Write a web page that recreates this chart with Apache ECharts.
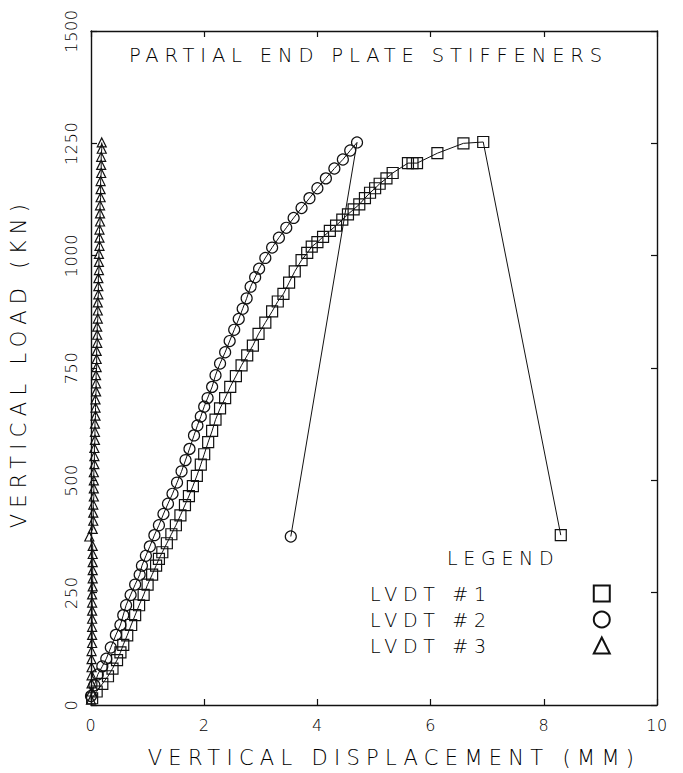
<!DOCTYPE html>
<html lang="en">
<head>
    <meta charset="UTF-8">
    <script src="https://cdn.jsdelivr.net/npm/echarts@6/dist/echarts.min.js"></script>
    <style>
        body { margin: 0; background: #fff; }
        /* plotter style lettering: wide spacing, except the small tick numbers */
        #loadChart svg text { letter-spacing: 0.3em; }
        #loadChart svg text[style*="16px"] { letter-spacing: 0.04em; }
    </style>
</head>
<body>
<div id="loadChart" style="width:683px;height:773px;"></div>
<script type="text/javascript">

    // LVDT #1 (squares)
    var lvdt1Disp = [0.02, 0.1, 0.2, 0.3, 0.38, 0.46, 0.52, 0.57, 0.64, 0.71, 0.78, 0.85, 0.93, 1.0, 1.08, 1.15,
        1.2, 1.26, 1.34, 1.42, 1.5, 1.58, 1.66, 1.73, 1.8, 1.87, 1.94, 2.0, 2.07, 2.14, 2.2, 2.28, 2.37, 2.46,
        2.56, 2.66, 2.76, 2.86, 2.96, 3.08, 3.2, 3.3, 3.4, 3.5, 3.6, 3.72, 3.82, 3.9, 4.0, 4.1, 4.22, 4.33,
        4.44, 4.54, 4.64, 4.74, 4.84, 4.93, 5.02, 5.1, 5.22, 5.33, 5.6, 5.68, 5.76, 6.12, 6.58, 6.93, 8.3];
    var lvdt1Load = [15, 30, 47, 64, 81, 100, 117, 134, 155, 178, 200, 222, 245, 268, 290, 310,
        325, 340, 360, 380, 400, 422, 445, 465, 487, 510, 535, 558, 585, 610, 635, 660, 683, 708,
        732, 756, 778, 800, 826, 851, 876, 898, 915, 940, 965, 990, 1006, 1020, 1030, 1042, 1055, 1067,
        1080, 1092, 1103, 1114, 1128, 1140, 1150, 1160, 1172, 1184, 1206, 1206, 1206, 1228, 1250, 1253, 378];

    // LVDT #2 (circles)
    var lvdt2Disp = [0.0, 0.06, 0.12, 0.2, 0.27, 0.35, 0.44, 0.52, 0.57, 0.62, 0.7, 0.78, 0.86, 0.9, 0.97,
        1.04, 1.12, 1.2, 1.28, 1.36, 1.44, 1.52, 1.6, 1.67, 1.74, 1.82, 1.88, 1.94, 2.0, 2.06, 2.14, 2.2,
        2.28, 2.37, 2.45, 2.53, 2.61, 2.68, 2.75, 2.82, 2.9, 2.97, 3.08, 3.2, 3.32, 3.45, 3.58, 3.72, 3.86,
        4.0, 4.15, 4.3, 4.45, 4.58, 4.7, 3.53];
    var lvdt2Load = [20, 44, 68, 86, 103, 128, 156, 178, 200, 222, 245, 268, 290, 310, 332,
        353, 378, 400, 425, 448, 470, 495, 520, 545, 570, 600, 622, 642, 664, 683, 708, 734,
        760, 785, 810, 835, 859, 882, 905, 931, 952, 971, 995, 1018, 1040, 1062, 1084, 1106, 1128,
        1150, 1172, 1194, 1214, 1234, 1252, 375];

    // LVDT #3 (triangles)
    var lvdt3Disp = [0.0, 0.01, 0.01, 0.01, 0.01, 0.01, 0.01, 0.02, 0.02, 0.02, 0.02, 0.02, 0.02, 0.02,
        0.03, 0.03, 0.03, 0.03, 0.03, 0.03, -0.03, 0.03, 0.04, 0.04, 0.04, 0.05, 0.05, 0.05, 0.05, 0.06,
        0.06, 0.06, 0.07, 0.07, 0.07, 0.08, 0.08, 0.08, 0.09, 0.09, 0.09, 0.1, 0.1, 0.1, 0.11, 0.11, 0.11,
        0.12, 0.12, 0.12, 0.13, 0.13, 0.13, 0.14, 0.14, 0.14, 0.15, 0.15, 0.15, 0.16, 0.16, 0.16, 0.17,
        0.17, 0.17, 0.18, 0.18, 0.18, 0.19, 0.19];
    var lvdt3Load = [12, 30, 48, 66, 84, 102, 120, 138, 156, 174, 192, 210, 228, 246, 264, 282, 300, 318,
        336, 354, 375, 392, 410, 428, 446, 464, 482, 500, 518, 536, 554, 572, 590, 608, 626, 644, 662, 680,
        698, 716, 734, 752, 770, 788, 806, 824, 842, 860, 878, 896, 914, 932, 950, 968, 986, 1004, 1022,
        1040, 1058, 1076, 1094, 1112, 1130, 1148, 1166, 1184, 1202, 1220, 1238, 1252];

    var seriesNames = ["LVDT #1", "LVDT #2", "LVDT #3"];

    var font = "DejaVu Sans";
    var ink = "#000";

    function pairs(xs, ys) {
        return xs.map((x, i) => [x, ys[i]]);
    }

    function boxAxis(min, max, step, pos, showLabel, extra) {
        return Object.assign({
            type: "value",
            min: min,
            max: max,
            interval: step,
            position: pos,
            axisLine: { show: true, onZero: false, lineStyle: { color: "#111", width: 1.4 } },
            axisTick: { show: true, inside: true, length: 6, lineStyle: { color: "#111", width: 1.2 } },
            splitLine: { show: false },
            axisLabel: {
                show: showLabel,
                fontFamily: font,
                fontSize: 16,
                fontWeight: 200,
                color: ink,
                margin: 12,
                formatter: v => String(v)
            }
        }, extra || {});
    }

    function lineSeries(name, data, symbol, size) {
        return {
            name: name,
            type: "line",
            data: data,
            symbol: symbol,
            symbolSize: size,
            showAllSymbol: true,
            clip: false,
            animation: false,
            lineStyle: { color: "#111", width: 1 },
            itemStyle: { color: "rgba(0,0,0,0)", borderColor: "#111", borderWidth: 1.2 }
        };
    }

    var chart = echarts.init(document.getElementById("loadChart"), null, { renderer: "svg" });

    var option = {
        animation: false,
        backgroundColor: "#fff",
        title: [
            {
                text: "PARTIAL END PLATE STIFFENERS",
                left: 124,
                top: 40,
                textStyle: { fontFamily: font, fontSize: 19.5, fontWeight: 200, color: ink }
            },
            {
                text: "LEGEND",
                left: 442,
                top: 543,
                textStyle: { fontFamily: font, fontSize: 19, fontWeight: 200, color: ink }
            }
        ],
        grid: { left: 87, right: 26, top: 31, bottom: 59 },
        legend: {
            orient: "vertical",
            left: 405,
            top: 579,
            align: "right",
            itemGap: 7,
            itemWidth: 16,
            itemHeight: 16,
            data: [
                { name: seriesNames[0], icon: "rect" },
                { name: seriesNames[1], icon: "circle" },
                { name: seriesNames[2], icon: "triangle" }
            ],
            textStyle: {
                fontFamily: font, fontSize: 19, fontWeight: 200, color: ink,
                padding: [0, 97, 0, 0]
            }
        },
        xAxis: [
            boxAxis(0, 10, 2, "bottom", true, {
                name: "VERTICAL DISPLACEMENT (MM)",
                nameLocation: "middle",
                nameGap: 42,
                nameTextStyle: { fontFamily: font, fontSize: 21, fontWeight: 200, color: ink, padding: [0, 0, 0, 40] }
            }),
            boxAxis(0, 10, 2, "top", false)
        ],
        yAxis: [
            boxAxis(0, 1500, 250, "left", true, {
                name: "VERTICAL LOAD (KN)",
                nameLocation: "middle",
                nameGap: 62,
                nameTextStyle: { fontFamily: font, fontSize: 21, fontWeight: 200, color: ink, padding: [0, 0, 0, 10] }
            }),
            boxAxis(0, 1500, 250, "right", false)
        ],
        series: [
            lineSeries(seriesNames[0], pairs(lvdt1Disp, lvdt1Load), "rect", 11),
            lineSeries(seriesNames[1], pairs(lvdt2Disp, lvdt2Load), "circle", 11),
            lineSeries(seriesNames[2], pairs(lvdt3Disp, lvdt3Load), "triangle", 9)
        ]
    };
    option.yAxis[0].axisLabel.rotate = 90;

    chart.setOption(option);
</script>
</body>
</html>
